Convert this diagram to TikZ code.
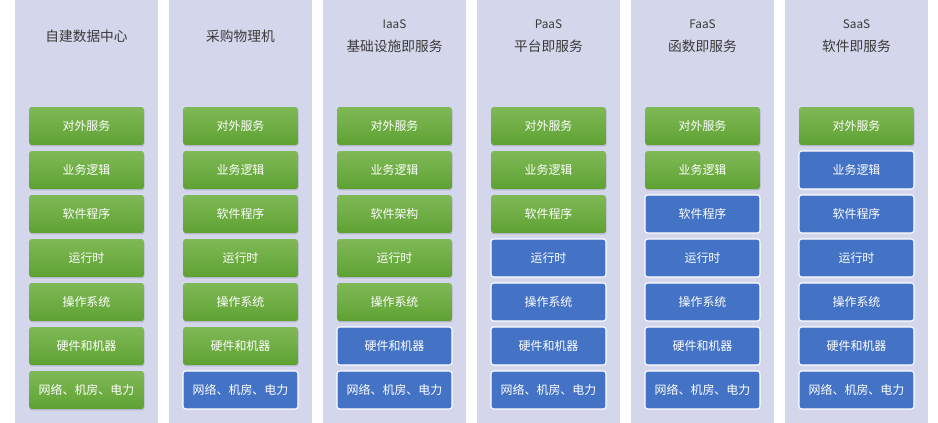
\documentclass[tikz,border=0pt]{standalone}
\usepackage{fontspec}
\setmainfont{Noto Sans CJK SC}
\usetikzlibrary{shadows}

\definecolor{panelbg}{HTML}{D4D6EC}
\definecolor{greentop}{HTML}{80B957}
\definecolor{greenbot}{HTML}{5EA232}
\definecolor{bluefill}{HTML}{4472C4}
\definecolor{titlegray}{HTML}{3A3A3A}

\tikzset{
  panel/.style={fill=panelbg, draw=none},
  coltitle/.style={text=titlegray, align=center, font=\fontsize{7.8}{13}\selectfont},
  layerbox/.style={rectangle, rounded corners=1.6pt, minimum width=2.3cm, minimum height=0.76cm,
    inner sep=0pt, text=white, font=\fontsize{6.8}{8}\selectfont},
  greenbox/.style={layerbox, top color=greentop, bottom color=greenbot, draw=none,
    drop shadow={shadow xshift=0.3pt, shadow yshift=-0.8pt, opacity=0.35}},
  bluebox/.style={layerbox, fill=bluefill, draw=white, line width=0.6pt}
}

\begin{document}
\begin{tikzpicture}[x=0.02cm, y=-0.02cm]
                % Define the canvas
                \useasboundingbox[fill=white] (0,0) rectangle (938,423);

                % Draw the columns and their stacks
                \foreach \col/\ngreen/\soft in {1/7/软件程序, 2/6/软件程序, 3/5/软件架构, 4/3/软件程序, 5/2/软件程序, 6/1/软件程序}
                {
                  \pgfmathsetmacro{\cx}{86.5+154*(\col-1)}
                  \path[panel] (\cx-71.5,0) rectangle (\cx+71.5,423);
                  \foreach \row/\txt in {1/对外服务, 2/业务逻辑, 3/\soft, 4/运行时, 5/操作系统, 6/硬件和机器, 7/{网络、机房、电力}}
                  {
                    \ifnum\row>\ngreen \def\boxstyle{bluebox}\else \def\boxstyle{greenbox}\fi
                    \node[\boxstyle] (b-\col-\row) at (\cx,82+44*\row) {\txt};
                  }
                  \coordinate (c\col) at (\cx,36);
                }

                % Draw the labels
                \node[coltitle] (t1) at (c1) {自建数据中心};
                \node[coltitle] (t2) at (c2) {采购物理机};
                \node[coltitle] (t3) at (c3) {{\fontsize{6.7}{13}\selectfont IaaS}\\基础设施即服务};
                \node[coltitle] (t4) at (c4) {{\fontsize{6.7}{13}\selectfont PaaS}\\平台即服务};
                \node[coltitle] (t5) at (c5) {{\fontsize{6.7}{13}\selectfont FaaS}\\函数即服务};
                \node[coltitle] (t6) at (c6) {{\fontsize{6.7}{13}\selectfont SaaS}\\软件即服务};
\end{tikzpicture}
\end{document}
